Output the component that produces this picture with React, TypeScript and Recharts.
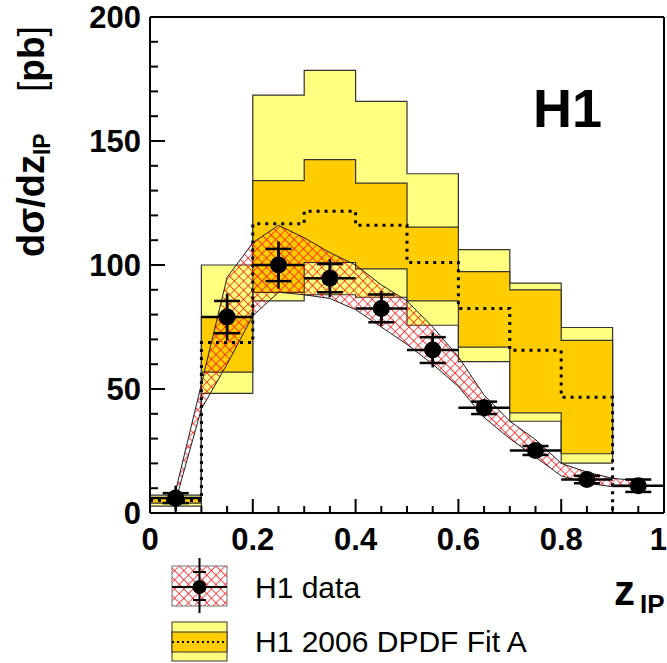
import {
  ComposedChart,
  Area,
  Line,
  Scatter,
  ErrorBar,
  XAxis,
  YAxis,
  ReferenceLine,
} from "recharts";

const FONT = '"Liberation Sans", Arial, Helvetica, sans-serif';

// fit histogram: left bin edges (last entry closes the histogram)
const binEdges = [0, 0.1, 0.2, 0.3, 0.4, 0.5, 0.6, 0.7, 0.8, 0.9];
const fitOuterLow = [2.8, 48.2, 85.5, 88, 87, 75.7, 61, 37, 20.1];
const fitOuterHigh = [7.2, 100, 168.5, 178.5, 166, 136.8, 106.2, 92.7, 74.8];
const fitInnerLow = [4, 56.8, 89, 101, 98.4, 85.5, 66.9, 40.4, 23.9];
const fitInnerHigh = [6, 79.2, 134, 142.5, 133, 115.3, 97.3, 90, 69.6];
const fitCentral = [5, 68.7, 116.6, 121.7, 116, 101, 82.5, 65.6, 46.7, 0];

// H1 data points
const dataZ = [0.05, 0.15, 0.25, 0.35, 0.45, 0.55, 0.65, 0.75, 0.85, 0.95];
const dataY = [6, 79, 100, 94.7, 82.5, 65.7, 42.4, 25.2, 13.5, 11];
const dataStat = [2, 6.5, 6.5, 5.7, 5.6, 5.2, 2.5, 1.8, 1.5, 2.5];
const dataTot = [5, 9.5, 9.5, 7.7, 7, 7, 3.5, 2.5, 2, 3];
const binHalf = [0.05, 0.05, 0.05, 0.05, 0.05, 0.05, 0.05, 0.05, 0.05, 0.05];

// hatched uncertainty band of the data
const bandZ = [0.05, 0.1, 0.15, 0.2, 0.25, 0.3, 0.35, 0.4, 0.45, 0.5, 0.55, 0.6, 0.65, 0.7, 0.75, 0.8, 0.85, 0.9, 0.95];
const bandLow = [5, 42, 60, 79.5, 89, 88, 86.5, 82, 75, 68, 60, 51, 38.5, 30, 22.5, 15, 12, 10.6, 10.6];
const bandHigh = [9, 52, 95, 109, 116, 111, 105, 100, 92, 85.5, 75, 63, 47.5, 37, 29.6, 20, 16.5, 14, 13];

// axis ticks
const xTicks = [0, 0.05, 0.1, 0.15, 0.2, 0.25, 0.3, 0.35, 0.4, 0.45, 0.5, 0.55, 0.6, 0.65, 0.7, 0.75, 0.8, 0.85, 0.9, 0.95, 1];
const xMajor = [0, 0.2, 0.4, 0.6, 0.8, 1];
const xLabels = ["0", "0.2", "0.4", "0.6", "0.8", "1"];
const yTicks = [0, 10, 20, 30, 40, 50, 60, 70, 80, 90, 100, 110, 120, 130, 140, 150, 160, 170, 180, 190, 200];
const yMajor = [0, 50, 100, 150, 200];
const yLabels = ["0", "50", "100", "150", "200"];

const nLast = fitOuterLow.length;
const fitData = binEdges.map((x, i) => {
  const j = Math.min(i, nLast - 1);
  const closing = i === nLast;
  return {
    x,
    outer: closing ? [fitOuterLow[j], fitOuterLow[j]] : [fitOuterLow[j], fitOuterHigh[j]],
    inner: closing ? [fitInnerLow[j], fitInnerLow[j]] : [fitInnerLow[j], fitInnerHigh[j]],
    central: fitCentral[i],
  };
});

const points = dataZ.map((x, i) => ({
  x,
  y: dataY[i],
  stat: dataStat[i],
  tot: dataTot[i],
  xerr: binHalf[i],
}));

const bandData = bandZ.map((x, i) => ({ x, band: [bandLow[i], bandHigh[i]] }));

const majorIndex = (list: number[], v: number) =>
  list.findIndex((m) => Math.abs(m - v) < 1e-6);

const XTick = (props: any) => {
  const { x, y, payload } = props;
  const k = majorIndex(xMajor, payload.value);
  // last label sits on the frame edge, keep it inside the page
  const isLast = k === xMajor.length - 1;
  return (
    <g>
      <line x1={x} x2={x} y1={y} y2={y - (k >= 0 ? 14 : 7)} stroke="#000" strokeWidth={2} />
      {k >= 0 && (
        <text
          x={isLast ? x + 3 : x}
          y={y + 37}
          textAnchor={isLast ? "end" : "middle"}
          fontFamily={FONT}
          fontWeight="bold"
          fontSize={31}
          fill="#000"
        >
          {xLabels[k]}
        </text>
      )}
    </g>
  );
};

const YTick = (props: any) => {
  const { x, y, payload } = props;
  const k = majorIndex(yMajor, payload.value);
  return (
    <g>
      <line x1={x} x2={x + (k >= 0 ? 15 : 8)} y1={y} y2={y} stroke="#000" strokeWidth={2} />
      {k >= 0 && (
        <text x={x - 9} y={y + 11} textAnchor="end" fontFamily={FONT} fontWeight="bold" fontSize={31} fill="#000">
          {yLabels[k]}
        </text>
      )}
    </g>
  );
};

const Dot = (p: any) => <circle cx={p.cx} cy={p.cy} r={8.5} fill="#000" />;

export default function App() {
  return (
    <div style={{ position: "absolute", left: 0, top: 0, width: 667, height: 663, background: "#fff" }}>
      <ComposedChart width={667} height={663} margin={{ top: 17, right: 3, left: 0, bottom: 0 }}>
        <defs>
          <pattern id="h1hatch" patternUnits="userSpaceOnUse" width={6.5} height={6.5} patternTransform="rotate(45)">
            <path d="M0,0 H6.5 M0,0 V6.5" stroke="#ff0000" strokeWidth={1.3} />
          </pattern>
        </defs>
        <Area
          data={fitData}
          dataKey="outer"
          type="stepAfter"
          fill="#ffff80"
          fillOpacity={1}
          stroke="#333"
          strokeWidth={1.2}
          dot={false}
          activeDot={false}
          isAnimationActive={false}
        />
        <Area
          data={fitData}
          dataKey="inner"
          type="stepAfter"
          fill="#ffcc00"
          fillOpacity={1}
          stroke="#333"
          strokeWidth={1.2}
          dot={false}
          activeDot={false}
          isAnimationActive={false}
        />
        <Area
          data={bandData}
          dataKey="band"
          type="linear"
          fill="url(#h1hatch)"
          fillOpacity={1}
          stroke="#222"
          strokeWidth={1}
          dot={false}
          activeDot={false}
          isAnimationActive={false}
        />
        <Line
          data={fitData}
          dataKey="central"
          type="stepAfter"
          stroke="#000"
          strokeWidth={3}
          strokeDasharray="3 5"
          dot={false}
          activeDot={false}
          isAnimationActive={false}
        />
        <Scatter data={points} dataKey="y" shape={Dot} isAnimationActive={false}>
          <ErrorBar dataKey="xerr" direction="x" width={0} stroke="#000" strokeWidth={2.5} />
          <ErrorBar dataKey="tot" direction="y" width={0} stroke="#000" strokeWidth={2.5} />
          <ErrorBar dataKey="stat" direction="y" width={13} stroke="#000" strokeWidth={2.5} />
        </Scatter>
        <ReferenceLine y={200} stroke="#000" strokeWidth={2} />
        <ReferenceLine x={1} stroke="#000" strokeWidth={2} />
        <XAxis
          dataKey="x"
          type="number"
          domain={[0, 1]}
          ticks={xTicks}
          interval={0}
          height={150}
          tickSize={0}
          tickMargin={0}
          tickLine={false}
          axisLine={{ stroke: "#000", strokeWidth: 2 }}
          tick={(p: any) => <XTick {...p} />}
          allowDataOverflow
        />
        <YAxis
          type="number"
          domain={[0, 200]}
          ticks={yTicks}
          interval={0}
          width={150}
          tickSize={0}
          tickMargin={0}
          tickLine={false}
          axisLine={{ stroke: "#000", strokeWidth: 2 }}
          tick={(p: any) => <YTick {...p} />}
          allowDataOverflow
        />
      </ComposedChart>

      <svg
        width={667}
        height={663}
        style={{ position: "absolute", left: 0, top: 0, pointerEvents: "none" }}
        fontFamily={FONT}
      >
        <defs>
          <pattern id="h1hatchLeg" patternUnits="userSpaceOnUse" width={6.5} height={6.5} patternTransform="rotate(45)">
            <path d="M0,0 H6.5 M0,0 V6.5" stroke="#ff0000" strokeWidth={1.3} />
          </pattern>
        </defs>

        <text x={533} y={127} fontSize={54} fontWeight="bold" fill="#000">H1</text>

        {/* y axis title */}
        <g transform="translate(44,257) rotate(-90)">
          <text x={0} y={0} fontSize={38} fontWeight="bold" fill="#000">
            dσ/dz
            <tspan fontSize={23} dy={6}>IP</tspan>
          </text>
          <text x={165} y={0} fontSize={37} fill="#000">
            [<tspan fontWeight="bold">pb</tspan>]
          </text>
        </g>

        {/* x axis title */}
        <text x={614} y={605} fontSize={42} fontWeight="bold" fill="#000">z</text>
        <text x={640} y={613} fontSize={26} fontWeight="bold" fill="#000">IP</text>

        {/* legend */}
        <rect x={172} y={566} width={55} height={40} fill="#fff" />
        <rect x={172} y={566} width={55} height={40} fill="url(#h1hatchLeg)" stroke="#777" strokeWidth={1} />
        <line x1={172} x2={227} y1={587} y2={587} stroke="#000" strokeWidth={2} />
        <line x1={199.5} x2={199.5} y1={558} y2={613} stroke="#000" strokeWidth={2} />
        <line x1={193} x2={206} y1={572} y2={572} stroke="#000" strokeWidth={2} />
        <line x1={193} x2={206} y1={600} y2={600} stroke="#000" strokeWidth={2} />
        <circle cx={199.5} cy={587} r={7} fill="#000" />
        <text x={255} y={598} fontSize={30} fill="#000">H1 data</text>

        <rect x={172} y={622} width={55} height={39} fill="#ffff80" stroke="#333" strokeWidth={1} />
        <rect x={172} y={632} width={55} height={20} fill="#ffcc00" stroke="#333" strokeWidth={1} />
        <line x1={172} x2={227} y1={642} y2={642} stroke="#000" strokeWidth={2} strokeDasharray="2 3" />
        <text x={255} y={652} fontSize={30} fill="#000">H1 2006 DPDF Fit A</text>
      </svg>
    </div>
  );
}
